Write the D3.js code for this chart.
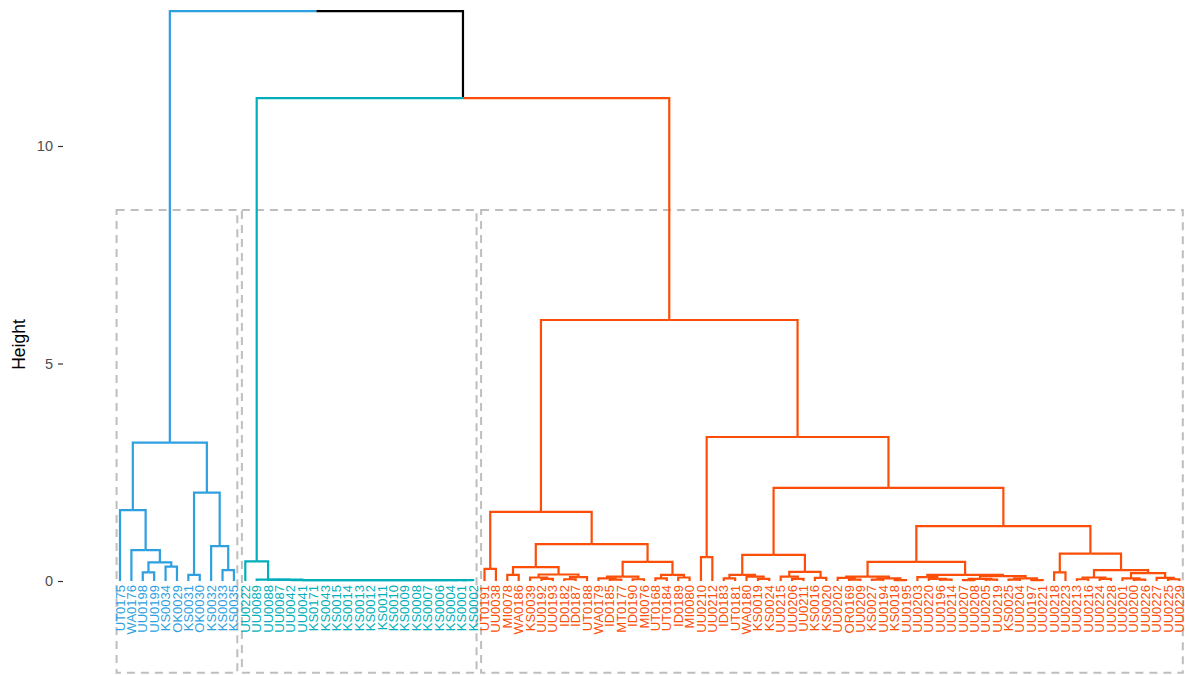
<!DOCTYPE html>
<html>
<head>
<meta charset="utf-8">
<script src="https://cdn.jsdelivr.net/npm/d3@7"></script>
<style>
  html, body { margin: 0; padding: 0; background: #ffffff; }
  svg { display: block; font-family: "Liberation Sans", Arial, Helvetica, sans-serif; }
</style>
</head>
<body>
<svg id="chart" width="1185" height="675"></svg>
<script>
// ---------------- DATA ----------------
// Cluster colours (k = 3)
const clusterColors = ["#2E9FDF", "#00AFBB", "#FC4E07"];
const yTicks = [0, 5, 10];
const yLabel = "Height";

// Cluster 1 subtree: [height, left, right], leaves are labels
const blueTree = [3.18,
  [1.63, "UT0175", [0.71, "WA0176", [0.43, [0.20, "UU0198", "UU0199"], [0.33, "KS0034", "OK0029"]]]],
  [2.03, [0.14, "KS0031", "OK0030"], [0.80, "KS0032", [0.25, "KS0033", "KS0035"]]]
];

// Cluster 2: one outlier plus a chain of near-identical samples
const tealOutlier = "UU0222";
const tealTopHeight = 0.45;
const tealChainLabels = ["UU0089", "UU0088", "UU0087", "UU0042", "UU0041", "KS0171", "KS0043",
  "KS0015", "KS0014", "KS0013", "KS0012", "KS0011", "KS0010", "KS0009", "KS0008", "KS0007",
  "KS0006", "KS0004", "KS0001", "KS0002"];
const tealChainHeights = [0.03, 0.03, 0.03, 0.02, 0.02, 0.02, 0.02, 0.02, 0.02, 0.02,
  0.02, 0.02, 0.02, 0.02, 0.02, 0.02, 0.02, 0.02, 0.02];

// Cluster 3 subtrees
const orangeA = [1.59,
  [0.28, "UT0191", "UU0038"],
  [0.85,
    [0.32, [0.14, "MI0078", "WA0186"],
      [0.15, [0.08, "KS0039", [0.05, "UU0192", "UU0193"]], [0.09, [0.04, "ID0182", "ID0187"], "UT0188"]]],
    [0.44,
      [0.10, [0.06, "WA0179", [0.03, "ID0185", "MT0177"]], [0.04, "ID0190", "MI0076"]],
      [0.14, [0.06, "UT0168", "UT0184"], [0.08, "ID0189", "MI0080"]]]
  ]
];
const orangeB2a = [0.60,
  [0.14, [0.06, "ID0183", "UT0181"], [0.10, "WA0180", [0.05, "KS0019", "KS0024"]]],
  [0.21, [0.10, "UU0215", [0.05, "UU0206", "UU0211"]], [0.07, "KS0016", "KS0020"]]
];
const orangeB2bLeft = [0.44,
  [0.10, [0.07, "UU0202", [0.03, "OR0169", "UU0209"]], [0.06, [0.03, "KS0027", "UU0194"], [0.02, "KS0018", "UU0195"]]],
  [0.14, [0.09, "UU0203", [0.05, "UU0220", [0.03, "UU0196", "UU0214"]]],
    [0.11, [0.05, [0.02, "UU0207", "UU0208"], [0.03, "UU0205", "UU0219"]], [0.06, [0.03, "KS0025", "UU0204"], [0.02, "UU0197", "UU0221"]]]]
];
const orangeB2bRight = [0.63,
  [0.20, "UU0218", "UU0223"],
  [0.25, [0.08, [0.04, "UU0213", "UU0216"], [0.05, "UU0224", "UU0228"]],
    [0.18, [0.06, "UU0201", [0.03, "UU0200", "UU0226"]], [0.07, "UU0227", [0.04, "UU0225", "UU0229"]]]]
];
const orangeHeights = { top: 6.0, B: 3.31, B1: 0.55, B2: 2.14, B2b: 1.26 };
const orangeB1 = ["UU0210", "UU0212"];

const rootHeight = 13.1;
const tealOrangeHeight = 11.1;
// Cluster rectangles (rect_border) : top and bottom height
const rectTop = 8.53, rectBottom = -2.11;

// ---------------- BUILD TREE ----------------
const tealChain = tealChainLabels.slice(0, -1).reduceRight(
  (acc, lab, i) => [tealChainHeights[i], lab, acc],
  tealChainLabels[tealChainLabels.length - 1]);
const tealTree = [tealTopHeight, tealOutlier, tealChain];
const orangeTree = [orangeHeights.top, orangeA,
  [orangeHeights.B, [orangeHeights.B1, orangeB1[0], orangeB1[1]],
    [orangeHeights.B2, orangeB2a, [orangeHeights.B2b, orangeB2bLeft, orangeB2bRight]]]];

function toNode(t, cluster) {
  if (typeof t === "string") return { name: t, height: 0, cluster };
  return { height: t[0], children: [toNode(t[1], cluster), toNode(t[2], cluster)] };
}
const rootNode = { height: rootHeight, children: [
  toNode(blueTree, 0),
  { height: tealOrangeHeight, children: [toNode(tealTree, 1), toNode(orangeTree, 2)] }
]};

const root = d3.hierarchy(rootNode);
const leaves = root.leaves();
const nLeaves = leaves.length;

// ---------------- SCALES ----------------
const svg = d3.select("#chart");
const x = d3.scaleLinear().domain([0, nLeaves - 1]).range([120, 1179.4]);
const y = d3.scaleLinear().domain([0, 10]).range([581, 146]);

leaves.forEach((l, i) => { l.xi = i; });
root.eachAfter(n => {
  if (n.children) {
    n.xi = (n.children[0].xi + n.children[1].xi) / 2;
    const cs = new Set(n.children.map(c => c.col));
    n.col = cs.size === 1 ? n.children[0].col : null;
  } else {
    n.col = n.data.cluster;
  }
});
const colorOf = c => (c === null ? "#000000" : clusterColors[c]);

// ---------------- RECTANGLES ----------------
const clusterRanges = [0, 1, 2].map(c => {
  const idx = leaves.filter(l => l.data.cluster === c).map(l => l.xi);
  return [d3.min(idx), d3.max(idx)];
});
svg.append("g").selectAll("rect").data(clusterRanges).join("rect")
  .attr("x", d => x(d[0] - 0.3))
  .attr("width", d => x(d[1] + 0.3) - x(d[0] - 0.3))
  .attr("y", y(rectTop))
  .attr("height", y(rectBottom) - y(rectTop))
  .attr("fill", "none")
  .attr("stroke", "#BEBEBE")
  .attr("stroke-width", 2)
  .attr("stroke-dasharray", "8,6");

// ---------------- BRANCHES ----------------
const links = root.links();
svg.append("g").selectAll("path").data(links).join("path")
  .attr("d", d => `M${x(d.target.xi)},${y(d.target.data.height)}V${y(d.source.data.height)}H${x(d.source.xi)}`)
  .attr("fill", "none")
  .attr("stroke", d => colorOf(d.target.col))
  .attr("stroke-width", 2.2)
  .attr("stroke-linejoin", "miter")
  .attr("stroke-linecap", "butt");

// ---------------- LEAF LABELS ----------------
svg.append("g").selectAll("text").data(leaves).join("text")
  .attr("transform", d => `translate(${x(d.xi)},${y(0) + 4}) rotate(-90)`)
  .attr("text-anchor", "end")
  .attr("dy", "0.35em")
  .attr("font-size", 13)
  .attr("fill", d => clusterColors[d.data.cluster])
  .text(d => d.data.name);

// ---------------- Y AXIS ----------------
const yAxis = svg.append("g")
  .attr("transform", "translate(63,0)")
  .call(d3.axisLeft(y).tickValues(yTicks).tickSize(5).tickPadding(5));
yAxis.select(".domain").remove();
yAxis.selectAll(".tick line").attr("stroke", "#333333").attr("stroke-width", 1.2);
yAxis.selectAll(".tick text").attr("fill", "#4D4D4D").attr("font-size", 14.5)
  .attr("font-family", "Liberation Sans, Arial, sans-serif");

svg.append("text")
  .attr("transform", `translate(25,${y(5) - 19}) rotate(-90)`)
  .attr("text-anchor", "middle")
  .attr("font-size", 17.5)
  .attr("fill", "#000000")
  .text(yLabel);
</script>
</body>
</html>
